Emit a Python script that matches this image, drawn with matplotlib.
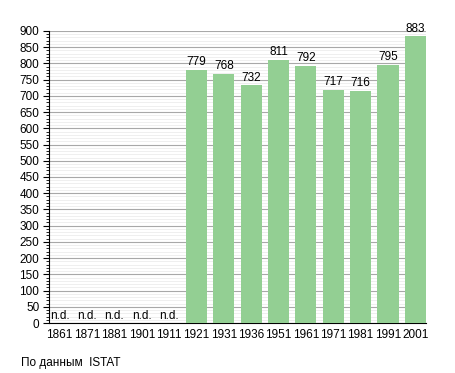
import matplotlib.pyplot as plt
from matplotlib.ticker import MultipleLocator

plt.rcParams['font.family'] = ['Liberation Sans', 'DejaVu Sans']

years = ['1861', '1871', '1881', '1901', '1911', '1921', '1931',
         '1936', '1951', '1961', '1971', '1981', '1991', '2001']
population = [None, None, None, None, None, 779, 768,
              732, 811, 792, 717, 716, 795, 883]

fig = plt.figure(figsize=(4.55, 3.73), dpi=100)
ax = fig.add_axes([0.108, 0.134, 0.828, 0.783])

width = 0.77
x = list(range(len(years)))

# Стовпці з даними
for i, val in zip(x, population):
    if val is None:
        ax.text(i, 3, 'n.d.', ha='center', va='bottom', fontsize=8.5)
    else:
        ax.bar(i, val, width=width, color='#93cf93', zorder=3)
        ax.text(i, val + 6, str(val), ha='center', va='bottom', fontsize=8.5)

ax.set_xlim(-width / 2, len(years) - 1 + width / 2)
ax.set_ylim(0, 900)

ax.set_xticks(x)
ax.set_xticklabels(years, fontsize=8.5)
ax.tick_params(axis='x', length=0, pad=4)

ax.yaxis.set_major_locator(MultipleLocator(50))
ax.yaxis.set_minor_locator(MultipleLocator(10))
ax.tick_params(axis='y', which='major', length=4, labelsize=8.5, pad=3)
ax.tick_params(axis='y', which='minor', length=2)

ax.grid(axis='y', which='major', color='#a8a8a8', linewidth=0.8, zorder=0)
ax.grid(axis='y', which='minor', color='#ececec', linewidth=0.6, zorder=0)

ax.spines['top'].set_visible(False)
ax.spines['right'].set_visible(False)

fig.text(0.046, 0.02, 'По данным  ISTAT', fontsize=8.5)

fig.savefig('out.png', dpi=100)
